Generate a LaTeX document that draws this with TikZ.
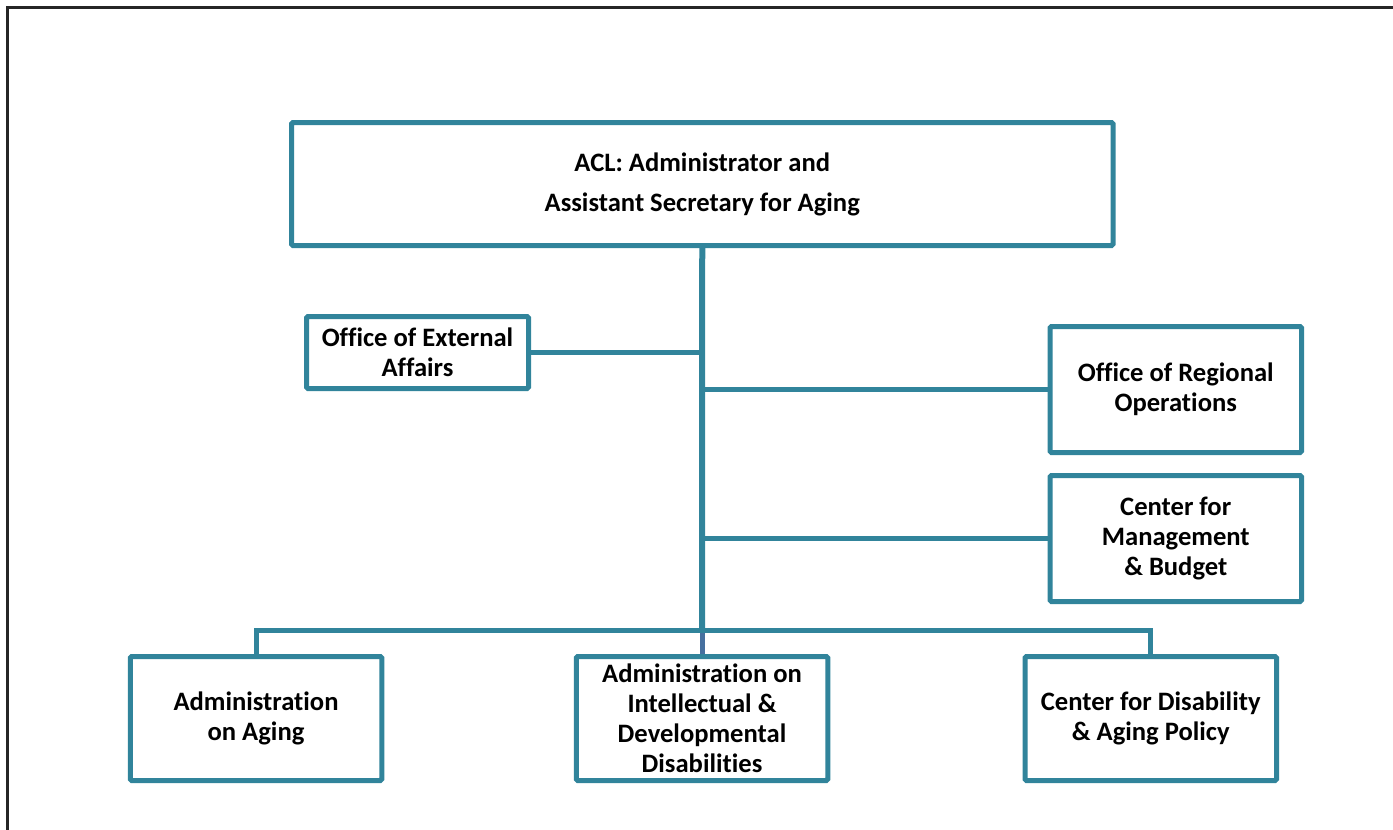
\documentclass[tikz,border=0pt]{standalone}
\usepackage{fontspec}
\setmainfont{Carlito}[Ligatures=NoCommon]
\usepackage{tikz}
\definecolor{orgline}{HTML}{31849B}
\definecolor{orglink}{HTML}{46709F}
\definecolor{pageframe}{HTML}{262626}
\tikzset{
  unit/.style={draw=orgline, line width=5pt, rounded corners=1.5pt, fill=white,
               align=center, inner sep=0pt, minimum width=251.5pt, minimum height=126pt,
               font=\fontsize{26.6}{30}\selectfont\bfseries},
  headunit/.style={unit, font=\fontsize{26.6}{40}\selectfont\bfseries},
  link/.style={orgline, line width=5pt},
}

\begin{document}
\begin{tikzpicture}[x=1pt, y=-1pt]
    \useasboundingbox (0,0) rectangle (1393,830);
    \draw[pageframe, line width=3pt] (7.5,830) -- (7.5,7.5) -- (1393,7.5);

    \node[headunit, minimum width=821.5pt, minimum height=123pt] (acl) at (702.25,184) {ACL: Administrator and\\Assistant Secretary for Aging};
    \node[unit, minimum width=222pt, minimum height=72pt] (extaff) at (417.5,352.5) {Office of External\\Affairs};
    \node[unit] (regops) at (1175.75,389.5) {Office of Regional\\Operations};
    \node[unit] (mgmt) at (1175.75,538.5) {Center for\\Management\\\& Budget};
    \node[unit, minimum height=124pt] (aoa) at (256,718.5) {Administration\\on Aging};
    \node[unit, minimum height=124pt] (aidd) at (702,718.5) {Administration on\\Intellectual \&\\Developmental\\Disabilities};
    \node[unit, minimum height=124pt] (cdap) at (1150.75,718.5) {Center for Disability\\\& Aging Policy};

    % trunk and branches
    \coordinate (bus) at (702,630.5);
    \draw[link, line width=6pt] (acl.south) -- (bus);
    \draw[link, orglink] (bus) -- (aidd.north);
    \draw[link] (extaff.east) -- (extaff.east -| bus);
    \draw[link] (regops.west) -- (regops.west -| bus);
    \draw[link] (mgmt.west) -- (mgmt.west -| bus);
    \draw[link] (aoa.north) |- (bus) -| (cdap.north);
  \end{tikzpicture}
\end{document}
